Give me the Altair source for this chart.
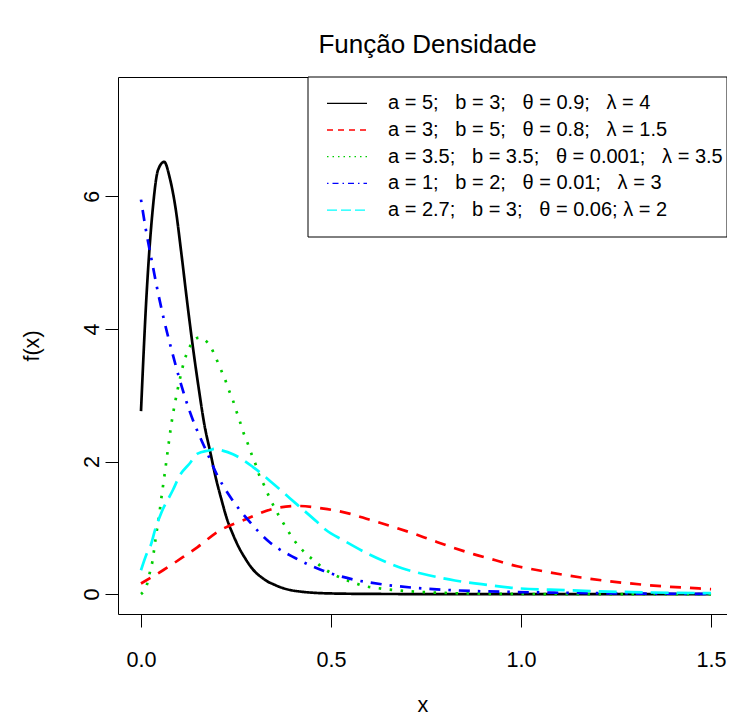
import altair as alt
import pandas as pd

# ---- data ----
black_x = [0, 0.015, 0.030, 0.045, 0.061, 0.076, 0.091, 0.106, 0.121, 0.136, 0.152, 0.167,
           0.182, 0.197, 0.212, 0.227, 0.242, 0.258, 0.273, 0.288, 0.303, 0.318, 0.333, 0.348,
           0.364, 0.394, 0.424, 0.455, 0.5, 0.6, 0.7, 0.8, 1.0, 1.2, 1.5]
black_y = [2.76, 4.55, 5.75, 6.40, 6.52, 6.27, 5.82, 5.15, 4.43, 3.75, 3.10, 2.55,
           2.15, 1.75, 1.42, 1.12, 0.90, 0.70, 0.55, 0.42, 0.32, 0.25, 0.19, 0.15,
           0.11, 0.06, 0.035, 0.02, 0.01, 0.003, 0.001, 0, 0, 0, 0]

red_x = [0, 0.058, 0.111, 0.149, 0.202, 0.28, 0.35, 0.411, 0.481, 0.551, 0.6, 0.652,
         0.709, 0.765, 0.822, 0.877, 0.933, 0.99, 1.045, 1.158, 1.271, 1.393, 1.468, 1.5]
red_y = [0.16, 0.36, 0.56, 0.71, 0.94, 1.14, 1.29, 1.33, 1.29, 1.21, 1.125, 1.035,
         0.93, 0.815, 0.70, 0.60, 0.51, 0.42, 0.36, 0.25, 0.17, 0.11, 0.086, 0.075]

green_x = [0, 0.016, 0.023, 0.030, 0.038, 0.047, 0.055, 0.063, 0.071, 0.079, 0.089, 0.101,
           0.115, 0.126, 0.141, 0.154, 0.167, 0.185, 0.198, 0.210, 0.221, 0.231, 0.242,
           0.251, 0.261, 0.270, 0.281, 0.291, 0.302, 0.312, 0.325, 0.337, 0.35, 0.364,
           0.38, 0.396, 0.414, 0.434, 0.457, 0.48, 0.506, 0.532, 0.561, 0.589, 0.617,
           0.7, 0.8, 0.9, 1.0, 1.2, 1.5]
green_y = [0.0, 0.15, 0.32, 0.49, 0.82, 1.16, 1.51, 1.84, 2.19, 2.53, 2.87, 3.21,
           3.54, 3.70, 3.84, 3.87, 3.84, 3.71, 3.55, 3.39, 3.24, 3.08, 2.92,
           2.76, 2.59, 2.43, 2.27, 2.11, 1.95, 1.78, 1.63, 1.47, 1.32, 1.17,
           1.02, 0.87, 0.73, 0.61, 0.50, 0.39, 0.30, 0.23, 0.17, 0.12, 0.095,
           0.045, 0.018, 0.006, 0.002, 0, 0]

blue_x = [0, 0.013, 0.028, 0.044, 0.06, 0.082, 0.102, 0.128, 0.159, 0.171, 0.2, 0.232,
          0.28, 0.337, 0.407, 0.481, 0.559, 0.638, 0.72, 0.80, 0.88, 0.96, 1.05, 1.15,
          1.25, 1.35, 1.5]
blue_y = [5.95, 5.49, 5.04, 4.57, 4.15, 3.65, 3.23, 2.76, 2.32, 2.17, 1.80, 1.49,
          1.13, 0.79, 0.54, 0.35, 0.22, 0.145, 0.095, 0.065, 0.045, 0.035, 0.025, 0.017,
          0.011, 0.007, 0.004]

cyan_x = [0, 0.015, 0.027, 0.037, 0.053, 0.084, 0.102, 0.128, 0.149, 0.181, 0.193, 0.211,
          0.242, 0.294, 0.355, 0.411, 0.463, 0.486, 0.533, 0.6, 0.634, 0.687, 0.757, 0.826,
          0.896, 0.975, 1.114, 1.29, 1.5]
cyan_y = [0.36, 0.61, 0.76, 0.97, 1.22, 1.57, 1.79, 1.97, 2.12, 2.17, 2.19, 2.17,
          2.11, 1.92, 1.63, 1.35, 1.09, 0.97, 0.81, 0.60, 0.51, 0.39, 0.285, 0.205,
          0.15, 0.095, 0.06, 0.03, 0.015]

SEP = "\u00a0\u00a0 "
labels = [
    "a = 5;" + SEP + "b = 3;" + SEP + "θ = 0.9;" + SEP + "λ = 4",
    "a = 3;" + SEP + "b = 5;" + SEP + "θ = 0.8;" + SEP + "λ = 1.5",
    "a = 3.5;" + SEP + "b = 3.5;" + SEP + "θ = 0.001;" + SEP + "λ = 3.5",
    "a = 1;" + SEP + "b = 2;" + SEP + "θ = 0.01;" + SEP + "λ = 3",
    "a = 2.7;" + SEP + "b = 3;" + SEP + "θ = 0.06; λ = 2",
]
colors = ["#000000", "#FF0000", "#00CD00", "#0000FF", "#00FFFF"]
dashes = [[1, 0], [11, 9], [2.5, 8.5], [2.5, 8, 11, 8], [18, 8]]
legend_dashes = [[1, 0], [6, 5], [1.5, 4], [1.5, 4, 6, 4], [10, 4]]
series = [(black_x, black_y), (red_x, red_y), (green_x, green_y), (blue_x, blue_y), (cyan_x, cyan_y)]

FONT = "Liberation Sans"
W, H = 609, 537

xscale = alt.Scale(domain=[-0.0605, 1.542], nice=False, zero=False)
yscale = alt.Scale(domain=[-0.3, 7.8], nice=False, zero=False)

xaxis = alt.Axis(values=[0, 0.5, 1.0, 1.5], format=".1f", title="x", grid=False, domain=False,
                 tickSize=13, tickColor="black", tickWidth=1, labelFontSize=21.6,
                 labelColor="black", labelFont=FONT, labelPadding=22, titleFont=FONT,
                 titleFontSize=21.6, titleFontWeight="normal", titleColor="black",
                 titlePadding=24, labelFlush=False)
yaxis = alt.Axis(values=[0, 2, 4, 6], format="d", title="f(x)", grid=False, domain=False,
                 tickSize=13, tickColor="black", tickWidth=1, labelFontSize=21.6,
                 labelColor="black", labelFont=FONT, labelPadding=2, labelAngle=270,
                 labelAlign="center", labelBaseline="bottom", titleFont=FONT,
                 titleFontSize=21.6, titleFontWeight="normal", titleColor="black",
                 titlePadding=38, labelFlush=False)

layers = []
for i, (xs, ys) in enumerate(series):
    df = pd.DataFrame({"x": xs, "y": ys})
    layers.append(
        alt.Chart(df).mark_line(color=colors[i], strokeDash=dashes[i], strokeWidth=2.7,
                                interpolate="monotone", clip=True).encode(
            x=alt.X("x:Q", scale=xscale, axis=xaxis),
            y=alt.Y("y:Q", scale=yscale, axis=yaxis),
            order="x:Q")
    )

# ---- legend box (layout in pixels of the plot area) ----
LX0, LX1, LY0, LY1 = 190, W, 0, 160
ROW0, ROWSTEP = 26.3, 26.7
one = pd.DataFrame({"k": [0]})
layers.append(
    alt.Chart(one).mark_rect(fill="white", stroke="black", strokeWidth=1).encode(
        x=alt.value(LX0), x2=alt.value(LX1), y=alt.value(LY0), y2=alt.value(LY1))
)
for i, lab in enumerate(labels):
    yy = ROW0 + i * ROWSTEP
    layers.append(
        alt.Chart(one).mark_rule(color=colors[i], strokeDash=legend_dashes[i], strokeWidth=1.3).encode(
            x=alt.value(209), x2=alt.value(249), y=alt.value(yy))
    )
    layers.append(
        alt.Chart(pd.DataFrame({"label": [lab]})).mark_text(
            align="left", baseline="middle", font=FONT, fontSize=20, color="black").encode(
            x=alt.value(270), y=alt.value(yy), text="label:N")
    )

chart = alt.layer(*layers).properties(
    width=W, height=H,
    title=alt.TitleParams("Função Densidade", font=FONT, fontSize=26, fontWeight="normal",
                          color="black", anchor="middle", offset=19, dx=5),
    autosize=alt.AutoSizeParams(type="none"),
    padding={"left": 110, "top": 69, "right": 0, "bottom": 104},
).configure(background="white", view=alt.ViewConfig(stroke="black", strokeWidth=1))

chart.save("out.html", embed_options={"renderer": "svg", "actions": False})
